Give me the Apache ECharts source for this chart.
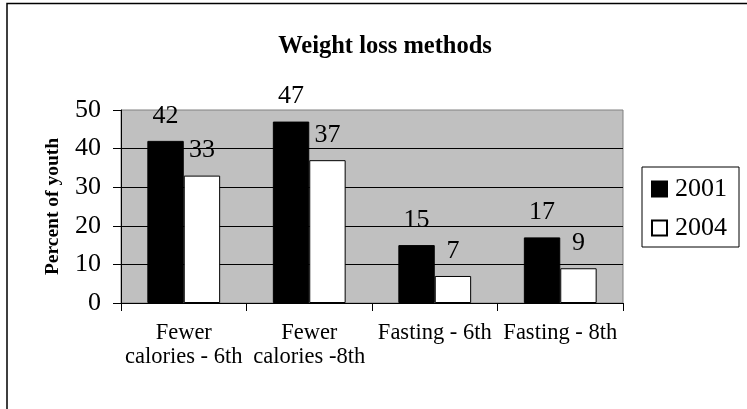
<!DOCTYPE html>
<html>
<head>
<meta charset="utf-8">
<script src="https://cdn.jsdelivr.net/npm/echarts@6/dist/echarts.min.js"></script>
<style>
  html, body { margin: 0; padding: 0; background: #fff; }
  #chart { width: 747px; height: 409px; }
</style>
</head>
<body>
<div id="chart"></div>
<script>
// Weight loss methods, share of youth by survey year
const categories = ['Fewer\ncalories - 6th', 'Fewer\ncalories -8th', 'Fasting - 6th', 'Fasting - 8th'];
const values2001 = [42, 47, 15, 17];
const values2004 = [33, 37, 7, 9];
const yTicks = [0, 10, 20, 30, 40, 50];

const serif = "'Liberation Serif', 'Times New Roman', serif";

const chart = echarts.init(document.getElementById('chart'), null, { renderer: 'canvas' });

const labelStyle = {
  show: true,
  position: 'top',
  distance: 12,
  color: '#000',
  fontFamily: serif,
  fontSize: 26
};

chart.setOption({
  animation: false,
  backgroundColor: '#fff',
  title: {
    text: 'Weight loss methods',
    left: 380,
    textAlign: 'center',
    top: 29,
    textStyle: { fontFamily: serif, fontWeight: 'bold', fontSize: 24.5, color: '#000' }
  },
  graphic: [{
    type: 'rect',
    shape: { x: 7, y: 3.5, width: 900, height: 600 },
    style: { fill: null, stroke: '#000', lineWidth: 1.5 },
    silent: true
  }],
  legend: {
    orient: 'vertical',
    left: 642,
    top: 167,
    padding: [9, 12, 6, 9],
    itemGap: 13,
    itemWidth: 15,
    itemHeight: 15,
    borderColor: '#000',
    borderWidth: 1,
    icon: 'rect',
    textStyle: { fontFamily: serif, fontSize: 26, lineHeight: 26, color: '#000', padding: [0, 0, 0, 3] },
    data: ['2001', '2004']
  },
  grid: {
    left: 121,
    right: 124,
    top: 110,
    bottom: 106,
    show: true,
    backgroundColor: '#c0c0c0',
    borderColor: '#808080',
    borderWidth: 1
  },
  xAxis: {
    type: 'category',
    data: categories,
    axisLine: { lineStyle: { color: '#000', width: 1 } },
    axisTick: { show: true, length: 8, lineStyle: { color: '#000' } },
    axisLabel: {
      color: '#000',
      fontFamily: serif,
      fontSize: 22.5,
      lineHeight: 24,
      margin: 18,
      interval: 0
    }
  },
  yAxis: {
    type: 'value',
    min: yTicks[0],
    max: yTicks[yTicks.length - 1],
    interval: 10,
    name: 'Percent of youth',
    nameLocation: 'middle',
    nameGap: 58,
    nameTextStyle: { fontFamily: serif, fontWeight: 'bold', fontSize: 19.5, color: '#000' },
    axisLine: { show: true, lineStyle: { color: '#000', width: 1 } },
    axisTick: { show: true, length: 8, lineStyle: { color: '#000' } },
    axisLabel: { color: '#000', fontFamily: serif, fontSize: 26, margin: 20 },
    splitLine: { show: true, showMaxLine: false, lineStyle: { color: '#000', width: 1 } }
  },
  series: [
    {
      name: '2001',
      type: 'bar',
      data: values2001,
      barGap: '0%',
      barCategoryGap: '42%',
      itemStyle: { color: '#000', borderColor: '#000', borderWidth: 1 },
      label: labelStyle
    },
    {
      name: '2004',
      type: 'bar',
      data: values2004,
      itemStyle: { color: '#fff', borderColor: '#000', borderWidth: 1 },
      label: labelStyle
    }
  ]
});
</script>
</body>
</html>
